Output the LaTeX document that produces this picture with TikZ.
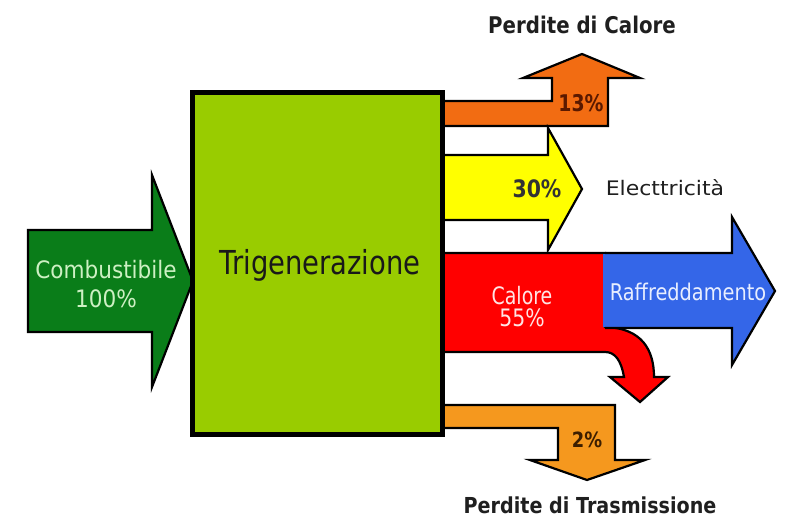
\documentclass[tikz,border=0pt]{standalone}
\usepackage{fontspec}
\setmainfont{DejaVu Sans}
\newfontfamily\condf{DejaVu Sans}[FakeStretch=0.83]
\definecolor{boxgreen}{RGB}{153,204,0}
\definecolor{fuelgreen}{RGB}{10,125,25}
\definecolor{toporange}{RGB}{242,108,18}
\definecolor{botorange}{RGB}{245,152,30}
\definecolor{elyellow}{RGB}{255,255,0}
\definecolor{heatred}{RGB}{255,0,0}
\definecolor{coolblue}{RGB}{52,102,232}
\definecolor{lightgreentext}{RGB}{205,240,195}
\definecolor{pinktext}{RGB}{255,228,228}
\definecolor{bluetext}{RGB}{232,238,255}
\newcommand{\fsz}[1]{\fontsize{#1}{#1}\selectfont}
\newcommand{\sx}[2]{\scalebox{#1}[1]{#2}}
\tikzset{
  flow/.style={draw=black, line width=2.2pt, line join=miter},
  txt/.style={inner sep=0pt},
}
\begin{document}
\begin{tikzpicture}[x=1pt, y=-1pt]
\useasboundingbox[fill=white] (0,0) rectangle (800,528);
% fuel arrow
\draw[flow, fill=fuelgreen] (28,230) -- (152,230) -- (152,175) -- (193,281) -- (152,387) -- (152,332) -- (28,332) -- cycle;
% top orange loss arrow
\draw[flow, fill=toporange] (430,101) -- (552,101) -- (552,78) -- (523,78) -- (582,54) -- (640,78) -- (608,78) -- (608,126) -- (430,126) -- cycle;
% yellow electricity arrow
\draw[flow, fill=elyellow] (430,155) -- (548,155) -- (548,128) -- (582,189) -- (548,250) -- (548,220) -- (430,220) -- cycle;
% red heat block with curved arrow
\draw[flow, fill=heatred] (430,253) -- (605,253) -- (605,327) .. controls (642,328) and (654,350) .. (654,377) -- (668,377) -- (640,402) -- (610,377) -- (624,377) .. controls (621,360) and (615,352) .. (605,352) -- (430,352) -- cycle;
% blue cooling arrow
\fill[coolblue] (603,254) -- (732,254) -- (732,217) -- (775,291) -- (732,365) -- (732,327) -- (603,327) -- cycle;
\draw[flow] (605,253) -- (732,253) -- (732,217) -- (775,291) -- (732,365) -- (732,328) -- (605,328);
% bottom orange loss arrow
\draw[flow, fill=botorange] (430,405) -- (615,405) -- (615,460) -- (645,460) -- (587,480) -- (530,460) -- (558,460) -- (558,428) -- (430,428) -- cycle;
% central box
\node[draw=black, line width=5pt, fill=boxgreen, minimum width=250pt, minimum height=342pt, inner sep=0pt] (box) at (317.5,263.5) {};
\node[txt, font=\condf\fsz{33}, text=black!90] (tri) at (320,265) {Trigenerazione};
% texts
\node[txt, font=\fsz{24}, text=lightgreentext] (comb) at (106,270) {\sx{0.9}{Combustibile}};
\node[txt, font=\fsz{24}, text=lightgreentext] (cento) at (106,299) {\sx{0.9}{100\%}};
\node[txt, font=\fsz{23}\bfseries, text=black!88] (pcal) at (582,25) {\sx{0.86}{Perdite di Calore}};
\node[txt, font=\fsz{23}\bfseries, text={rgb,255:red,90;green,25;blue,0}] (p13) at (581,103) {\sx{0.82}{13\%}};
\node[txt, font=\fsz{24}\bfseries, text=black!80] (p30) at (537,189) {\sx{0.85}{30\%}};
\node[txt, font=\fsz{20}, text=black!88] (elec) at (665,188) {\sx{1.1}{Electtricità}};
\node[txt, font=\fsz{24}, text=pinktext] (cal) at (522,296) {\sx{0.79}{Calore}};
\node[txt, font=\fsz{24}, text=pinktext] (p55) at (522,318) {\sx{0.85}{55\%}};
\node[txt, font=\fsz{23}, text=bluetext] (raff) at (688,292) {\sx{0.84}{Raffreddamento}};
\node[txt, font=\fsz{21}\bfseries, text={rgb,255:red,60;green,30;blue,0}] (p2) at (587,440) {\sx{0.85}{2\%}};
\node[txt, font=\fsz{22}\bfseries, text=black!88] (ptras) at (590,505) {\sx{0.87}{Perdite di Trasmissione}};
\end{tikzpicture}
\end{document}
